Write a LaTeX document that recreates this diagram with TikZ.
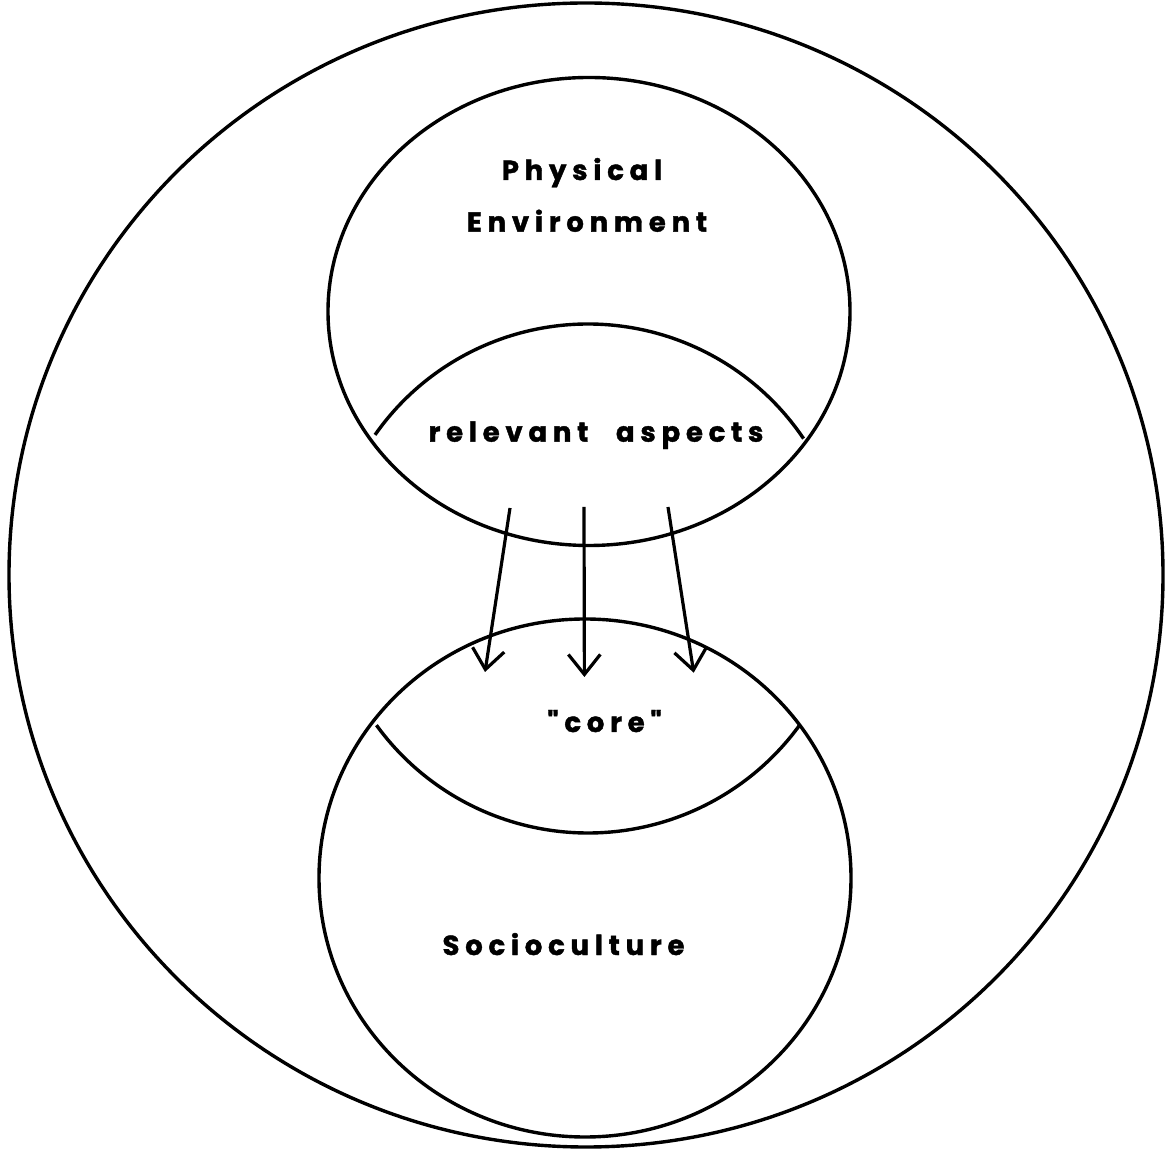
\documentclass[tikz,border=0pt]{standalone}
\usepackage{fontspec}
\usetikzlibrary{arrows.meta}
\newfontfamily\labfont{Poppins}[LetterSpace=21, BoldFeatures={FakeBold=1.5}]
\begin{document}
\begin{tikzpicture}[x=1pt,y=1pt,line width=3.4pt,
  lab/.style={font=\labfont\bfseries\fontsize{27.5}{30}\selectfont, anchor=base, inner sep=0pt},
  flow/.style={-{Straight Barb[length=20pt,width=32pt]}, line width=3.2pt}]
\useasboundingbox (0,0) rectangle (1169,1151);
% outer circle
\coordinate (outerc) at (586,576);
\draw (outerc) ellipse [x radius=577, y radius=572];
% physical environment
\coordinate (envc) at (589,839.5);
\draw (envc) ellipse [x radius=261, y radius=234];
% socioculture
\coordinate (socc) at (585,273);
\draw (socc) ellipse [x radius=266, y radius=259];
% relevant aspects boundary
\coordinate (relc) at (588,567);
\draw (relc) ++(145:260) arc [start angle=145, end angle=34, radius=260];
% core boundary
\coordinate (corec) at (588,579.5);
\draw (corec) ++(216:261.5) arc [start angle=216, end angle=324, radius=261.5];
% labels
\node[lab] (phys) at (582,971) {Physical};
\node[lab] (env) at (587,919.3) {Environment};
\node[lab] (rel) at (596,709.3) {relevant\hspace{16pt} aspects};
\node[lab] (core) at (604.5,419) {"core"};
\node[lab] (soc) at (563.5,196) {Socioculture};
% arrows
\coordinate (a1s) at (510,643);
\coordinate (a1e) at (485,479);
\coordinate (a2s) at (584,644);
\coordinate (a2e) at (584.4,474);
\coordinate (a3s) at (668,644);
\coordinate (a3e) at (693.7,478.3);
\draw[flow] (a1s) -- (a1e);
\draw[flow] (a2s) -- (a2e);
\draw[flow] (a3s) -- (a3e);
\end{tikzpicture}
\end{document}
